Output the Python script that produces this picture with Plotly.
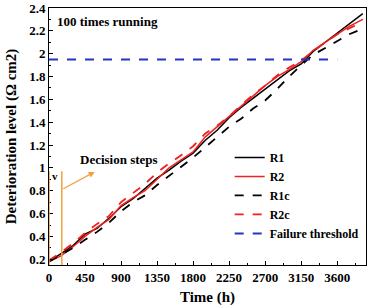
import plotly.graph_objects as go

time_h = [0,150,300,450,600,750,900,1050,1200,1350,1500,1650,1800,1950,2100,2250,2400,2550,2700,2850,3000,3150,3300,3450,3600,3750,3920]
r1  = [0.18,0.25,0.32,0.42,0.47,0.56,0.66,0.73,0.82,0.91,0.98,1.06,1.13,1.24,1.33,1.44,1.53,1.61,1.69,1.77,1.85,1.91,2.02,2.10,2.18,2.26,2.35]
r2  = [0.18,0.23,0.31,0.40,0.48,0.55,0.67,0.74,0.80,0.90,1.00,1.07,1.14,1.27,1.36,1.45,1.54,1.63,1.72,1.80,1.86,1.93,2.03,2.10,2.17,2.24,2.30]
r1c = [0.18,0.24,0.30,0.37,0.44,0.52,0.62,0.70,0.76,0.85,0.93,1.01,1.09,1.18,1.27,1.36,1.43,1.52,1.59,1.69,1.80,1.90,1.99,2.05,2.11,2.17,2.22]
r2c = [0.19,0.26,0.34,0.43,0.51,0.58,0.70,0.78,0.86,0.96,1.04,1.11,1.19,1.30,1.37,1.45,1.55,1.64,1.72,1.81,1.88,1.94,2.02,2.10,2.17,2.22,2.28]
threshold_x = [0, 3600]
threshold_y = [1.95, 1.95]
decision_x = [0, 160]
decision_top = 0.97
x_ticks = [0,450,900,1350,1800,2250,2700,3150,3600]
y_ticks = [0.2,0.4,0.6,0.8,1,1.2,1.4,1.6,1.8,2,2.2,2.4]

FONT = "'Liberation Serif', 'Times New Roman', serif"
orange = "#F0A040"

fig = go.Figure()
fig.add_trace(go.Scatter(x=time_h, y=r1, mode="lines", name="<b>R1</b>", line=dict(color="black", width=1.5)))
fig.add_trace(go.Scatter(x=time_h, y=r2, mode="lines", name="<b>R2</b>", line=dict(color="#F02020", width=1.5)))
fig.add_trace(go.Scatter(x=time_h, y=r1c, mode="lines", name="<b>R1c</b>", line=dict(color="black", width=1.8, dash="dash")))
fig.add_trace(go.Scatter(x=time_h, y=r2c, mode="lines", name="<b>R2c</b>", line=dict(color="#F02020", width=1.8, dash="dash")))
fig.add_trace(go.Scatter(x=threshold_x, y=threshold_y, mode="lines", name="<b>Failure threshold</b>", line=dict(color="#2535C0", width=2, dash="dash")))

for dx in decision_x:
    fig.add_shape(type="line", x0=dx, x1=dx, y0=0.15, y1=decision_top, line=dict(color=orange, width=1.5), layer="above")

fig.add_annotation(x=570, y=0.965, ax=160, ay=0.81, xref="x", yref="y", axref="x", ayref="y",
                   showarrow=True, arrowhead=2, arrowsize=1, arrowwidth=1.2, arrowcolor=orange, text="")
fig.add_annotation(x=80, y=0.93, text="<b>v</b>", showarrow=False, font=dict(family=FONT, size=11, color="black"))
fig.add_annotation(x=870, y=1.07, text="<b>Decision steps</b>", showarrow=False, font=dict(family=FONT, size=13, color="black"))
fig.add_annotation(x=0.02, y=0.985, xref="paper", yref="paper", xanchor="left", yanchor="top",
                   text="<b>100 times running</b>", showarrow=False, font=dict(family=FONT, size=13, color="black"))

axis_common = dict(showgrid=False, zeroline=False, showline=True, linecolor="black", linewidth=1,
                   mirror=True, ticks="inside", ticklen=4, tickcolor="black",
                   tickfont=dict(family=FONT, size=13, color="black"))
fig.update_xaxes(range=[0, 3960], tickvals=x_ticks, ticktext=[f"<b>{v}</b>" for v in x_ticks],
                 minor=dict(ticks="inside", ticklen=2, dtick=225, tickcolor="black"),
                 title=dict(text="<b>Time (h)</b>", font=dict(family=FONT, size=15, color="black"), standoff=8),
                 **axis_common)
fig.update_yaxes(range=[0.15, 2.4], tickvals=y_ticks, ticktext=[f"<b>{v:g}</b>" for v in y_ticks],
                 minor=dict(ticks="inside", ticklen=2, dtick=0.1, tickcolor="black"),
                 title=dict(text="<b>Deterioration level (Ω cm2)</b>", font=dict(family=FONT, size=15, color="black"), standoff=8),
                 **axis_common)
fig.update_layout(width=367, height=306, margin=dict(l=49, r=1, t=8, b=41),
                  paper_bgcolor="white", plot_bgcolor="white",
                  font=dict(family=FONT, size=12, color="black"),
                  legend=dict(x=0.57, y=0.475, xanchor="left", yanchor="top", bgcolor="rgba(0,0,0,0)",
                              font=dict(family=FONT, size=12, color="black"), itemwidth=30,
                              tracegroupgap=0))
fig.write_html("out.html")
